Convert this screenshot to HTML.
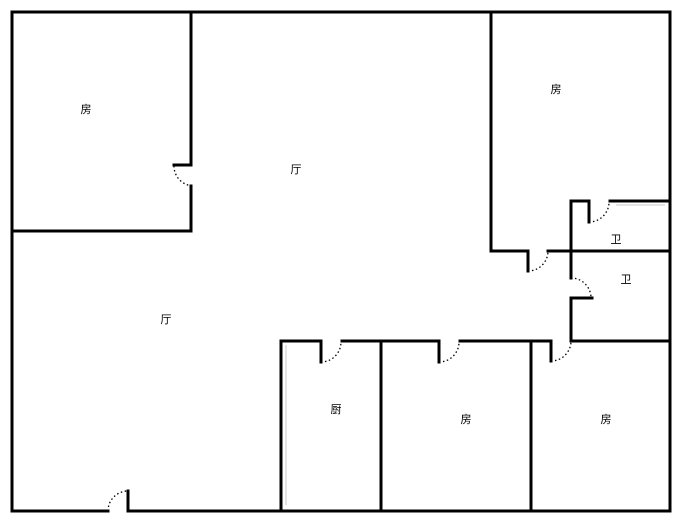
<!DOCTYPE html>
<html><head><meta charset="utf-8"><style>
html,body{margin:0;padding:0;background:#fff;}
svg{display:block}
text{font-family:"Liberation Sans","Noto Sans CJK SC",sans-serif;font-size:11px;fill:#000;text-anchor:middle;dominant-baseline:middle}
</style></head><body>
<svg width="680" height="520" viewBox="0 0 680 520">
<g stroke="#000" stroke-width="3" fill="none" stroke-linecap="square">
<path d="M12 12 H670 V511 H128 M108 511 H12 V12"/>
<path d="M128 511 V491"/>
<path d="M191 12 V165 H174 M191 186 V231 H12"/>
<path d="M491 12 V251 H528 V271 M548 251 H670"/>
<path d="M571 278 V201 H589 V222 M610 201 H670"/>
<path d="M592 298 H571 V341"/>
<path d="M281 511 V341 H321 V362 M342 341 H439 V362 M460 341 H551 V361 M571 341 H670"/>
<path d="M381 341 V511 M531 341 V511"/>
</g>
<g stroke="#000" stroke-width="1.3" fill="none" stroke-dasharray="1.5 2.5">
<path d="M174 166 A20 20 0 0 0 194 186"/>
<path d="M528 271 A20 20 0 0 0 548 251"/>
<path d="M589 222 A20 20 0 0 0 609 202"/>
<path d="M571 278 A20 20 0 0 1 591 298"/>
<path d="M321 362 A20 20 0 0 0 341 342"/>
<path d="M439 362 A20 20 0 0 0 459 342"/>
<path d="M551 361 A20 20 0 0 0 571 341"/>
<path d="M108 511 A20 20 0 0 1 128 491"/>
</g>
<line x1="286" y1="345" x2="286" y2="505" stroke="#e4e4e4" stroke-width="2"/>
<line x1="616" y1="205" x2="665" y2="205" stroke="#e4e4e4" stroke-width="2"/>
<text x="86" y="110">房</text>
<text x="296" y="170">厅</text>
<text x="556" y="90">房</text>
<text x="616" y="240">卫</text>
<text x="626" y="280">卫</text>
<text x="166" y="320">厅</text>
<text x="336" y="410">厨</text>
<text x="466" y="420">房</text>
<text x="606" y="420">房</text>
</svg>
</body></html>
